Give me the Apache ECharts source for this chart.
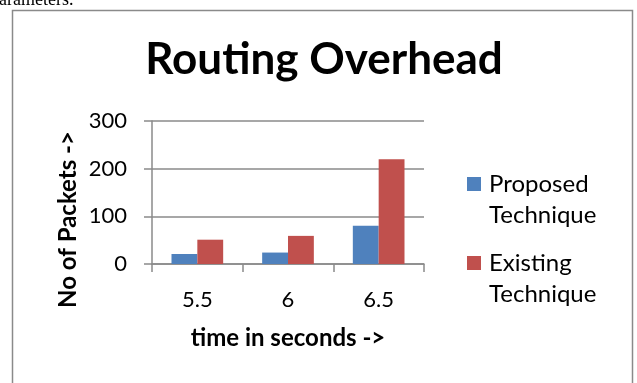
<!DOCTYPE html>
<html>
<head>
<meta charset="utf-8">
<script src="https://cdn.jsdelivr.net/npm/echarts@6/dist/echarts.min.js"></script>
<style>
  html, body { margin: 0; padding: 0; background: #fff; }
  #chart { width: 637px; height: 383px; }
</style>
</head>
<body>
<div id="chart"></div>
<script>
// Routing overhead: packets sent at each time step, per technique
const times = ['5.5', '6', '6.5'];
const proposed = [21, 24, 80];
const existing = [51, 59, 220];
const seriesNames = ['Proposed Technique', 'Existing Technique'];
const yTicks = { min: 0, max: 300, interval: 100 };

const FONT = 'Lato';
const gridColor = '#8a8a8a';

const chart = echarts.init(document.getElementById('chart'), null, { renderer: 'canvas' });

chart.setOption({
  animation: false,
  backgroundColor: '#fff',
  title: {
    text: 'Routing Overhead',
    left: 324,
    top: 38,
    padding: 0,
    textAlign: 'center',
    textStyle: { fontFamily: FONT, fontWeight: 'bold', fontSize: 44, lineHeight: 44, color: '#000' }
  },
  legend: {
    orient: 'vertical',
    left: 467,
    top: 169,
    padding: 0,
    itemGap: 17,
    itemWidth: 14,
    itemHeight: 46,
    // square sits beside the first text line
    icon: 'path://M0,0h14v14h-14z M0,46',
    formatter: name => name.replace(' ', '\n'),
    textStyle: { fontFamily: FONT, fontSize: 24, lineHeight: 31, color: '#000', padding: [0, 0, 0, 3] },
    data: seriesNames
  },
  grid: { left: 152, right: 213, top: 121, bottom: 119, containLabel: false },
  xAxis: {
    type: 'category',
    data: times,
    boundaryGap: true,
    name: 'time in seconds ->',
    nameLocation: 'middle',
    nameGap: 62,
    nameTextStyle: { fontFamily: FONT, fontWeight: 'bold', fontSize: 24, color: '#000' },
    axisLine: { show: true, lineStyle: { color: gridColor, width: 1.5 } },
    axisTick: { show: true, inside: false, length: 8, alignWithLabel: false, lineStyle: { color: gridColor, width: 1.5 } },
    axisLabel: { margin: 25, fontFamily: FONT, fontSize: 22, color: '#000' },
    splitLine: { show: false }
  },
  yAxis: {
    type: 'value',
    min: yTicks.min,
    max: yTicks.max,
    interval: yTicks.interval,
    name: 'No of Packets ->',
    nameLocation: 'middle',
    nameGap: 72,
    nameRotate: 90,
    nameTextStyle: { fontFamily: FONT, fontWeight: 'bold', fontSize: 24, color: '#000', padding: [0, 54, 0, 0] },
    axisLine: { show: true, lineStyle: { color: gridColor, width: 1.5 } },
    axisTick: { show: true, inside: false, length: 8, lineStyle: { color: gridColor, width: 1.5 } },
    axisLabel: { margin: 25, fontFamily: FONT, fontSize: 22, color: '#000' },
    splitLine: { show: true, lineStyle: { color: gridColor, width: 1.5 } }
  },
  series: [
    {
      name: seriesNames[0],
      type: 'bar',
      data: proposed,
      barGap: '0%',
      barCategoryGap: '43%',
      itemStyle: { color: '#4F81BD' }
    },
    {
      name: seriesNames[1],
      type: 'bar',
      data: existing,
      barGap: '0%',
      barCategoryGap: '43%',
      itemStyle: { color: '#C0504D' }
    }
  ],
  graphic: [
    {
      // chart frame, open at the bottom edge of the page
      type: 'rect',
      shape: { x: 12.5, y: 10.5, width: 620, height: 400 },
      style: { fill: null, stroke: '#8a8a8a', lineWidth: 1.5 },
      silent: true
    },
    {
      // tail of the surrounding paragraph text, clipped by the page top
      type: 'text',
      x: -1,
      y: 9,
      style: { text: 'arameters.', font: '18px "Liberation Serif"', fill: '#000', verticalAlign: 'bottom' },
      silent: true
    }
  ]
});
</script>
</body>
</html>
